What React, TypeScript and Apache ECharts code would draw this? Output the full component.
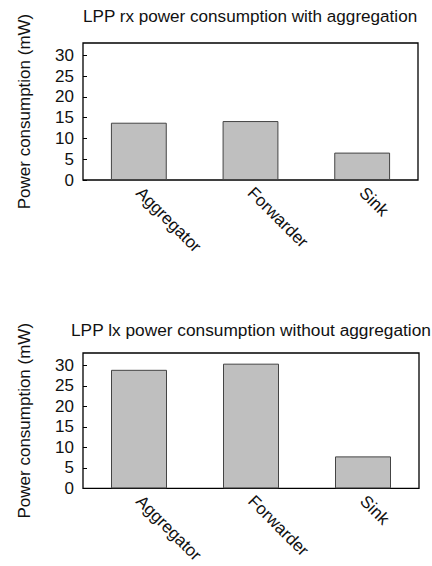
import React, { useEffect, useRef } from "react";
import * as echarts from "echarts";

const categories = ["Aggregator", "Forwarder", "Sink"];
const rxWithAggregation = [13.8, 14.2, 6.6];
const lxWithoutAggregation = [28.9, 30.4, 7.8];
const yTickValues = [0, 5, 10, 15, 20, 25, 30];
const titles = [
  "LPP rx power consumption with aggregation",
  "LPP lx power consumption without aggregation",
];
const yAxisName = "Power consumption (mW)";

const FONT = "'Liberation Sans', Arial, Helvetica, sans-serif";

export default function App() {
  const ref = useRef<HTMLDivElement>(null);
  useEffect(() => {
    if (!ref.current) return;
    const chart = echarts.init(ref.current, null, { renderer: "svg" });
    const grids = [
      { left: 83, right: 14, top: 43, height: 137 },
      { left: 83, right: 13, top: 353, height: 138 },
    ];
    const xAxis = grids.map((_, i) => ({
      type: "category",
      gridIndex: i,
      data: categories,
      axisLine: { show: false },
      axisTick: { show: false },
      axisLabel: {
        rotate: -45,
        margin: 10,
        color: "#111",
        fontSize: 17,
        fontFamily: FONT,
      },
    }));
    const yAxis = grids.map((_, i) => ({
      type: "value",
      gridIndex: i,
      min: 0,
      max: 33,
      interval: 5,
      splitLine: { show: false },
      axisLine: { show: false },
      axisTick: {
        show: true,
        inside: true,
        length: 4,
        customValues: yTickValues,
        lineStyle: { color: "#000", width: 1 },
      },
      axisLabel: {
        customValues: yTickValues,
        margin: 9,
        color: "#111",
        fontSize: 17,
        fontFamily: FONT,
      },
      name: yAxisName,
      nameLocation: "middle",
      nameRotate: 90,
      nameGap: 50,
      nameTextStyle: { color: "#111", fontSize: 17, fontFamily: FONT },
    }));
    const seriesData = [rxWithAggregation, lxWithoutAggregation];
    chart.setOption({
      animation: false,
      backgroundColor: "#fff",
      title: titles.map((t, i) => ({
        text: t,
        left: i === 0 ? 83 : 71,
        top: i === 0 ? 8 : 321,
        padding: 0,
        textStyle: {
          color: "#111",
          fontSize: i === 0 ? 17.1 : 17.3,
          fontWeight: "normal",
          fontFamily: FONT,
        },
      })),
      grid: grids.map((g) => ({
        ...g,
        show: true,
        borderColor: "#000",
        borderWidth: 1.3,
        backgroundColor: "transparent",
      })),
      xAxis,
      yAxis,
      series: seriesData.map((d, i) => ({
        type: "bar",
        xAxisIndex: i,
        yAxisIndex: i,
        data: d,
        barWidth: "50%",
        itemStyle: {
          color: "#bfbfbf",
          borderColor: "#444",
          borderWidth: 1,
        },
      })),
    });
    return () => chart.dispose();
  }, []);
  return (
    <div
      ref={ref}
      style={{ position: "fixed", left: 0, top: 0, width: 432, height: 566 }}
    />
  );
}
